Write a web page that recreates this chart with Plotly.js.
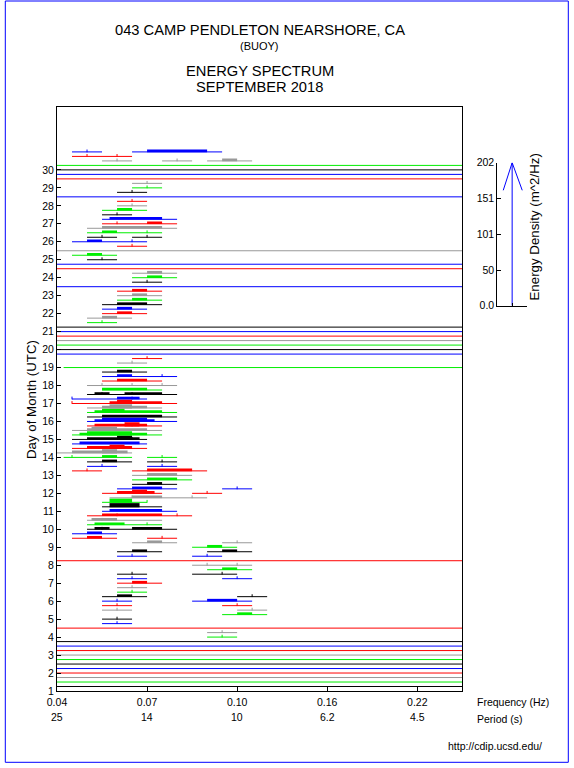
<!DOCTYPE html>
<html><head><meta charset="utf-8">
<script src="https://cdn.plot.ly/plotly-3.0.1.min.js"></script>
<style>html,body{margin:0;padding:0;background:#fff;} #chart{width:574px;height:768px;}</style>
</head><body><div id="chart"></div>
<script>
// colour of a spectrum = its 6-hour index (day*4) modulo 5
const cycleColors = ['#000000', '#00ee00', '#999999', '#ff0000', '#0000ff'];

// spectra drawn across the whole band: [day, start frequency (Hz)]
const fullLines = [[30.25,0.04],[30.0,0.04],[29.75,0.04],[29.5,0.04],[28.5,0.04],[25.5,0.04],[24.75,0.04],[24.5,0.04],[23.5,0.04],
  [21.25,0.04],[21.0,0.04],[20.75,0.04],[20.5,0.04],[20.25,0.04],[20.0,0.04],[19.75,0.04],[19.0,0.0422],[8.25,0.04],[4.5,0.04],
  [3.75,0.04],[3.5,0.04],[3.25,0.04],[3.0,0.04],[2.75,0.04],[2.5,0.04],[2.25,0.04],[2.0,0.04],[1.75,0.04],[1.5,0.04],[1.25,0.04]];
const fullLineEnd = 0.25;

// thin spectrum segments: [day, f0, f1]
const thinSegs = [
  [31.0,0.045,0.055],[31.0,0.065,0.095],[30.75,0.045,0.065],[30.5,0.055,0.065],[30.5,0.075,0.085],[30.5,0.09,0.11],
  [29.25,0.065,0.075],[29.0,0.065,0.075],[28.75,0.06,0.07],[28.25,0.06,0.07],[28.0,0.06,0.07],[27.75,0.055,0.07],
  [27.5,0.055,0.065],[27.25,0.055,0.08],[27.0,0.055,0.08],[26.75,0.05,0.08],[26.5,0.05,0.075],[26.25,0.05,0.06],
  [26.25,0.065,0.075],[26.0,0.045,0.07],[25.75,0.06,0.07],[25.25,0.045,0.06],[25.0,0.05,0.06],[24.25,0.065,0.08],
  [24.0,0.065,0.08],[23.75,0.065,0.075],[23.25,0.06,0.075],[23.0,0.06,0.075],[22.75,0.06,0.075],[22.5,0.055,0.075],
  [22.25,0.055,0.07],[22.0,0.055,0.07],[21.75,0.05,0.065],[21.5,0.05,0.06],
  [19.5,0.065,0.075],[19.25,0.06,0.07],[18.75,0.055,0.07],[18.5,0.055,0.08],[18.25,0.055,0.075],[18.0,0.05,0.08],
  [17.75,0.055,0.075],[17.5,0.05,0.08],[17.25,0.045,0.07],[17.0,0.045,0.08],[16.75,0.05,0.075],[16.5,0.05,0.08],
  [16.25,0.05,0.08],[16.0,0.05,0.08],[15.75,0.05,0.075],[15.5,0.045,0.075],[15.25,0.045,0.075],[15.0,0.045,0.07],
  [14.75,0.045,0.07],[14.5,0.045,0.07],[14.25,0.04,0.065],[14.0,0.0422,0.065],[14.0,0.07,0.08],[13.75,0.05,0.065],
  [13.75,0.07,0.08],[13.5,0.05,0.06],[13.5,0.07,0.08],[13.25,0.045,0.055],[13.25,0.065,0.09],[13.0,0.065,0.085],
  [12.75,0.065,0.085],[12.5,0.065,0.08],[12.25,0.06,0.08],[12.25,0.095,0.11],[12.0,0.055,0.075],[12.0,0.085,0.095],
  [11.75,0.0575,0.09],[11.5,0.055,0.07],[11.25,0.055,0.075],[11.0,0.055,0.08],[10.75,0.05,0.085],[10.5,0.05,0.075],
  [10.25,0.05,0.075],[10.0,0.05,0.08],[9.75,0.045,0.06],[9.5,0.045,0.06],[9.5,0.07,0.08],[9.25,0.065,0.08],
  [9.25,0.095,0.11],[9.0,0.085,0.10],[8.75,0.06,0.075],[8.75,0.09,0.11],[8.5,0.06,0.07],[8.5,0.085,0.095],
  [8.0,0.085,0.11],[7.75,0.09,0.11],[7.5,0.06,0.07],[7.5,0.085,0.10],[7.25,0.06,0.07],[7.25,0.095,0.11],
  [7.0,0.06,0.075],[6.75,0.06,0.07],[6.5,0.06,0.07],[6.25,0.055,0.07],[6.25,0.10,0.12],[6.0,0.055,0.065],
  [6.0,0.085,0.11],[5.75,0.055,0.065],[5.75,0.095,0.11],[5.5,0.055,0.065],[5.5,0.10,0.12],[5.25,0.095,0.12],
  [5.0,0.055,0.065],[4.75,0.055,0.065],[4.25,0.09,0.10],[4.0,0.09,0.10]];

// energetic parts of spectra: [day, f0, f1, level]
const thickSegs = [
  [31.0,0.07,0.09,1],[30.5,0.095,0.10,1],[27.75,0.06,0.065,1],[27.25,0.0575,0.075,1],[27.0,0.07,0.075,1],
  [26.75,0.055,0.075,1],[26.5,0.055,0.06,1],[26.0,0.05,0.055,1],[25.25,0.05,0.055,1],[24.25,0.07,0.075,1],
  [24.0,0.07,0.075,1],[23.25,0.065,0.07,1],[23.0,0.065,0.07,1],[22.75,0.065,0.07,1],[22.5,0.06,0.07,1],
  [22.25,0.06,0.065,1],[22.0,0.06,0.065,1],[21.75,0.055,0.06,1],
  [18.75,0.06,0.065,1],[18.5,0.06,0.065,1],[18.25,0.06,0.07,1],[17.75,0.055,0.07,1],[17.5,0.0525,0.0575,1],
  [17.5,0.0625,0.075,1],[17.25,0.06,0.0675,1],[17.0,0.0575,0.075,1],[17.0,0.06,0.065,2],[16.75,0.055,0.07,1],
  [16.75,0.0575,0.065,2],[16.5,0.0525,0.075,1],[16.5,0.055,0.0625,2],[16.25,0.055,0.075,1],[16.0,0.0525,0.0725,1],
  [16.0,0.055,0.07,2],[15.75,0.0525,0.07,1],[15.75,0.0625,0.0675,2],[15.5,0.05,0.07,1],[15.5,0.0515,0.06,2],
  [15.25,0.0475,0.07,1],[15.25,0.05,0.065,2],[15.0,0.05,0.0675,1],[15.0,0.06,0.065,2],[14.75,0.0475,0.0675,1],
  [14.5,0.05,0.065,1],[14.5,0.0575,0.0625,2],[14.25,0.045,0.0635,1],[14.25,0.055,0.06,2],[14.0,0.055,0.06,1],
  [13.75,0.055,0.06,1],[13.25,0.07,0.085,1],[13.0,0.07,0.08,1],[12.75,0.07,0.08,1],[12.5,0.07,0.075,1],
  [12.25,0.065,0.075,1],[12.0,0.06,0.0725,1],[12.0,0.065,0.07,2],[11.75,0.065,0.075,1],[11.5,0.0575,0.065,2],
  [11.25,0.0575,0.0675,2],[11.0,0.0575,0.075,1],[10.75,0.055,0.075,1],[10.5,0.0515,0.06,1],[10.25,0.0525,0.0625,1],
  [10.0,0.0525,0.0575,1],[10.0,0.065,0.075,1],[9.75,0.05,0.055,1],[9.5,0.05,0.055,1],[9.25,0.07,0.075,1],
  [9.0,0.09,0.095,1],[8.75,0.065,0.07,1],[8.75,0.095,0.10,1],[7.75,0.095,0.10,1],[7.0,0.065,0.07,1],
  [6.25,0.06,0.065,1],[6.0,0.09,0.10,1],[5.25,0.10,0.11,1]];

// peak marks: [day, frequency]
const peaks = [
  [31.0,0.05],[30.75,0.05],[30.75,0.06],[30.5,0.06],[30.5,0.08],[29.25,0.07],[29.0,0.07],[28.75,0.065],[28.25,0.065],
  [28.0,0.065],[27.5,0.06],[27.0,0.06],[26.5,0.07],[26.25,0.055],[26.25,0.07],[26.0,0.065],[25.75,0.065],[25.0,0.055],
  [23.75,0.07],[21.5,0.055],[19.5,0.07],[19.25,0.065],[18.5,0.075],[18.0,0.055],[18.0,0.065],[18.0,0.075],[17.5,0.055],
  [17.5,0.065],[17.25,0.045],[17.25,0.065],[17.0,0.045],[15.75,0.065],[15.0,0.065],[14.0,0.045],[14.0,0.075],
  [13.75,0.075],[13.5,0.055],[13.5,0.075],[13.25,0.05],[12.25,0.10],[12.0,0.09],[11.75,0.065],[11.75,0.085],
  [11.5,0.07],[10.75,0.06],[10.75,0.08],[10.5,0.055],[10.25,0.07],[10.0,0.055],[9.5,0.075],[9.25,0.10],
  [8.5,0.065],[8.5,0.09],[8.0,0.09],[8.0,0.10],[7.5,0.065],[7.5,0.095],[7.25,0.065],[7.25,0.10],[6.75,0.065],
  [6.5,0.065],[6.25,0.11],[6.0,0.06],[5.75,0.06],[5.75,0.10],[5.5,0.06],[5.5,0.11],[5.0,0.06],[4.75,0.06],
  [4.25,0.095],[4.0,0.095]];

const freqTicks = [0.04, 0.07, 0.10, 0.16, 0.22];
const freqTickText = ['0.04', '0.07', '0.10', '0.16', '0.22'];
const periodText = ['25', '14', '10', '6.2', '4.5'];
const dayTicks = [];
for (let d = 1; d <= 30; d++) dayTicks.push(d);
const energyTicks = [0, 50, 101, 151, 202];
const energyTickText = ['0.0', '50', '101', '151', '202'];
const energyMax = 202;

// frequency axis: 0.005 Hz bins below 0.10 Hz, 0.01 Hz bins above, equal width
function fx(f) { return f <= 0.10 ? (f - 0.04) / 0.03 : 2 + (f - 0.10) / 0.06; }
function colorIdx(day) { return Math.round(day * 4) % 5; }

const dayPerPx = 32.5 / 584;
const widths = [1, 2.6, 4.2];
const lift = [0, 1.0, 1.6];

const groups = {};
function add(level, ci, day, f0, f1) {
  const k = level + '_' + ci;
  if (!groups[k]) groups[k] = {x: [], y: [], level: level, ci: ci};
  const yy = day + lift[level] * dayPerPx;
  groups[k].x.push(fx(f0), fx(f1), null);
  groups[k].y.push(yy, yy, null);
}
fullLines.forEach(r => add(0, colorIdx(r[0]), r[0], r[1], fullLineEnd));
thinSegs.forEach(r => add(0, colorIdx(r[0]), r[0], r[1], r[2]));
thickSegs.forEach(r => add(r[3], colorIdx(r[0]), r[0], r[1], r[2]));

const traces = [];
Object.keys(groups).sort().forEach(k => {
  const g = groups[k];
  traces.push({type: 'scatter', mode: 'lines', x: g.x, y: g.y, xaxis: 'x', yaxis: 'y',
    line: {color: cycleColors[g.ci], width: widths[g.level]}, hoverinfo: 'skip', showlegend: false});
});
for (let ci = 0; ci < 5; ci++) {
  const pk = peaks.filter(p => colorIdx(p[0]) === ci);
  if (!pk.length) continue;
  traces.push({type: 'scatter', mode: 'markers', x: pk.map(p => fx(p[1])), y: pk.map(p => p[0] + 1.0 * dayPerPx),
    marker: {symbol: 'line-ns', size: 2, color: cycleColors[ci], line: {width: 1, color: cycleColors[ci]}},
    hoverinfo: 'skip', showlegend: false});
}
// energy density scale
traces.push({type: 'scatter', mode: 'lines', xaxis: 'x2', yaxis: 'y2', x: [0.5, 0.5], y: [0, energyMax],
  line: {color: '#0000ff', width: 1}, hoverinfo: 'skip', showlegend: false});
traces.push({type: 'scatter', mode: 'lines', xaxis: 'x2', yaxis: 'y2', x: [0.2, 0.5, 0.84], y: [163, energyMax, 163],
  line: {color: '#0000ff', width: 1}, hoverinfo: 'skip', showlegend: false});

const FONT = 'Arial, "Liberation Sans", Helvetica, sans-serif';
const W = 512, H = 584, L = 57, T = 107;
const px = X => (X - L) / W;
const py = Y => (T + H - Y) / H;

const annotations = [
  {text: '043 CAMP PENDLETON NEARSHORE, CA', x: 2.25, xref: 'x', y: py(29.5), size: 14.7},
  {text: '(BUOY)', x: 2.25, xref: 'x', y: py(45.5), size: 11},
  {text: 'ENERGY SPECTRUM', x: 2.25, xref: 'x', y: py(70.5), size: 14.7},
  {text: 'SEPTEMBER 2018', x: 2.25, xref: 'x', y: py(87), size: 14.7},
].map(a => ({text: a.text, x: a.x, xref: a.xref, y: a.y, yref: 'paper', xanchor: 'center', yanchor: 'middle',
  showarrow: false, font: {family: FONT, size: a.size, color: '#000'}}));
freqTicks.forEach((f, i) => annotations.push({text: periodText[i], x: fx(f), xref: 'x', y: py(716.5), yref: 'paper',
  xanchor: 'center', yanchor: 'middle', showarrow: false, font: {family: FONT, size: 10.5, color: '#000'}}));
annotations.push({text: 'Frequency (Hz)', x: px(475), xref: 'paper', y: py(702), yref: 'paper', xanchor: 'left',
  yanchor: 'middle', showarrow: false, font: {family: FONT, size: 10.5, color: '#000'}});
annotations.push({text: 'Period (s)', x: px(475), xref: 'paper', y: py(719), yref: 'paper', xanchor: 'left',
  yanchor: 'middle', showarrow: false, font: {family: FONT, size: 10.5, color: '#000'}});
annotations.push({text: 'http://cdip.ucsd.edu/', x: px(544), xref: 'paper', y: py(745.5), yref: 'paper', xanchor: 'right',
  yanchor: 'middle', showarrow: false, font: {family: FONT, size: 10.5, color: '#000'}});
annotations.push({text: 'Day of Month (UTC)', x: px(31), xref: 'paper', y: py(400), yref: 'paper', xanchor: 'center',
  yanchor: 'middle', textangle: -90, showarrow: false, font: {family: FONT, size: 13.3, color: '#000'}});
annotations.push({text: 'Energy Density (m^2/Hz)', x: px(534), xref: 'paper', y: py(227.5), yref: 'paper', xanchor: 'center',
  yanchor: 'middle', textangle: -90, showarrow: false, font: {family: FONT, size: 13.3, color: '#000'}});

const layout = {
  width: 574, height: 768, autosize: false,
  margin: {l: L, r: 574 - L - W, t: T, b: 768 - T - H, pad: 0},
  paper_bgcolor: '#fff', plot_bgcolor: '#fff', showlegend: false,
  font: {family: FONT, size: 11, color: '#000'},
  xaxis: {domain: [0, px(462.3)], range: [0, 4.5], anchor: 'y', tickmode: 'array', tickvals: freqTicks.map(fx),
    ticktext: freqTickText, ticks: 'inside', ticklen: 5, tickcolor: '#000', showline: true, linecolor: '#000',
    linewidth: 1, mirror: true, showgrid: false, zeroline: false, ticklabelstandoff: 1,
    tickfont: {family: FONT, size: 10.5, color: '#000'}},
  yaxis: {domain: [0, 1], range: [1, 33.5], anchor: 'x', tickmode: 'array', tickvals: dayTicks, ticks: 'inside',
    ticklen: 4, tickcolor: '#000', showline: true, linecolor: '#000', linewidth: 1, mirror: true, showgrid: false,
    zeroline: false, tickfont: {family: FONT, size: 10.5, color: '#000'}},
  xaxis2: {domain: [px(497.3), px(527)], range: [0, 1], anchor: 'y2', tickmode: 'array', tickvals: [0.5],
    ticks: 'inside', ticklen: 3, tickcolor: '#000', showticklabels: false, showline: true, linecolor: '#000',
    showgrid: false, zeroline: false},
  yaxis2: {domain: [py(305.7), py(162.7)], range: [0, energyMax], anchor: 'x2', tickmode: 'array',
    tickvals: energyTicks, ticktext: energyTickText, ticks: 'inside', ticklen: 4, tickcolor: '#000', showline: true,
    linecolor: '#000', showgrid: false, zeroline: false, tickfont: {family: FONT, size: 10.5, color: '#000'}},
  annotations: annotations,
  shapes: [{type: 'rect', xref: 'paper', yref: 'paper', x0: px(5.3), x1: px(568.3), y0: py(762.3), y1: py(1),
    line: {color: '#0000ff', width: 1}, fillcolor: 'rgba(0,0,0,0)'}]
};

Plotly.newPlot('chart', traces, layout, {staticPlot: true, displayModeBar: false});
</script>
</body></html>
